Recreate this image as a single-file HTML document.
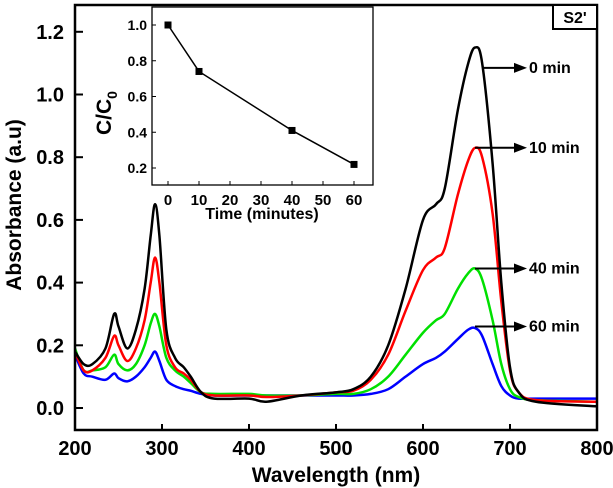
<!DOCTYPE html><html><head><meta charset="utf-8"><style>
body{margin:0;background:#fff}svg{display:block;font-family:"Liberation Sans",sans-serif;font-weight:bold}
</style></head><body>
<svg id="c" width="613" height="488"></svg>
<script>
const xTicks=[200,300,400,500,600,700,800];
const yTicks=[0.0,0.2,0.4,0.6,0.8,1.0,1.2];
const wl=[200,210,220,235,245,250,260,270,280,287,292,297,305,315,325,333,345,360,400,420,460,500,520,540,560,580,600,615,625,640,652,660,668,680,690,700,710,730,800];
const black=[0.18,0.14,0.14,0.19,0.30,0.26,0.19,0.25,0.38,0.55,0.65,0.55,0.25,0.16,0.13,0.10,0.05,0.03,0.03,0.02,0.04,0.05,0.06,0.10,0.20,0.38,0.60,0.65,0.70,0.95,1.10,1.15,1.10,0.78,0.40,0.13,0.05,0.02,0.005];
const red=[0.18,0.12,0.12,0.16,0.23,0.20,0.15,0.19,0.28,0.40,0.48,0.40,0.20,0.13,0.11,0.09,0.05,0.04,0.04,0.035,0.04,0.05,0.055,0.09,0.17,0.31,0.44,0.48,0.51,0.68,0.79,0.83,0.80,0.62,0.34,0.12,0.05,0.025,0.02];
const green=[0.19,0.12,0.12,0.13,0.17,0.14,0.12,0.14,0.20,0.27,0.30,0.26,0.16,0.12,0.10,0.08,0.05,0.045,0.045,0.04,0.04,0.045,0.045,0.06,0.10,0.17,0.24,0.28,0.30,0.38,0.43,0.445,0.41,0.28,0.14,0.06,0.035,0.025,0.02];
const blue=[0.17,0.11,0.10,0.09,0.11,0.095,0.085,0.10,0.13,0.16,0.18,0.15,0.09,0.07,0.06,0.055,0.045,0.04,0.04,0.04,0.04,0.04,0.04,0.045,0.06,0.10,0.14,0.16,0.18,0.22,0.25,0.255,0.23,0.14,0.07,0.04,0.03,0.03,0.03];
const labels=["0 min","10 min","40 min","60 min"];
const labelVals=[1.085,0.83,0.445,0.26];
const insetT=[0,10,40,60];
const insetC=[1.0,0.74,0.41,0.22];
const insetXTicks=[0,10,20,30,40,50,60];
const insetYTicks=[0.2,0.4,0.6,0.8,1.0];

const NS="http://www.w3.org/2000/svg",svg=document.getElementById('c');
function mk(t,a,p){const e=document.createElementNS(NS,t);for(const k in a)e.setAttribute(k,a[k]);(p||svg).appendChild(e);return e;}
const X=v=>75+(v-200)*(522/600), Y=v=>408-v*(62.7/0.2);
function smooth(pts){let d=`M${pts[0][0]},${pts[0][1]}`;for(let i=0;i<pts.length-1;i++){const p0=pts[Math.max(0,i-1)],p1=pts[i],p2=pts[i+1],p3=pts[Math.min(pts.length-1,i+2)];d+=` C${p1[0]+(p2[0]-p0[0])/6},${p1[1]+(p2[1]-p0[1])/6} ${p2[0]-(p3[0]-p1[0])/6},${p2[1]-(p3[1]-p1[1])/6} ${p2[0]},${p2[1]}`;}return d;}
[[blue,'#0000ff','series-60min'],[green,'#00e000','series-40min'],[red,'#ff0000','series-10min'],[black,'#000','series-0min']].forEach(([s,c,n])=>{
 const e=mk('path',{d:smooth(wl.map((w,i)=>[X(w),Y(s[i])])),fill:'none',stroke:c,'stroke-width':2.5});
 });
const f=mk('rect',{x:75,y:5,width:522,height:425,fill:'none',stroke:'#000','stroke-width':2.5});

xTicks.forEach(t=>{mk('line',{x1:X(t),x2:X(t),y1:430,y2:424,stroke:'#000','stroke-width':2});
 const e=mk('text',{x:X(t),y:455,'text-anchor':'middle','font-size':20});e.textContent=t;
 });
yTicks.forEach(t=>{mk('line',{x1:75,x2:83,y1:Y(t),y2:Y(t),stroke:'#000','stroke-width':2});
 const e=mk('text',{x:64,y:Y(t)+7,'text-anchor':'end','font-size':20});e.textContent=t.toFixed(1);
 });
let e=mk('text',{x:336,y:482,'text-anchor':'middle','font-size':21});e.textContent='Wavelength (nm)';

e=mk('text',{x:0,y:0,'text-anchor':'middle','font-size':21,transform:'translate(21,205) rotate(-90)'});e.textContent='Absorbance (a.u)';

const g=mk('g',{});
mk('rect',{x:553,y:5,width:44,height:24,fill:'#fff',stroke:'#000','stroke-width':2},g);
mk('text',{x:575,y:23,'text-anchor':'middle','font-size':16},g).textContent="S2'";
labels.forEach((l,i)=>{const ay=Y(labelVals[i]);const ax=i==0?482:475;
 mk('line',{x1:ax,x2:517,y1:ay,y2:ay,stroke:'#000','stroke-width':2});
 mk('polygon',{points:`514,${ay-5} 527,${ay} 514,${ay+5}`,fill:'#000'});
 const t=mk('text',{x:529,y:ay+5,'font-size':16});t.textContent=l;
 });
const IX=v=>168+v*3.1, IY=v=>25+(1.0-v)*(143/0.8);
const ig=mk('g',{});
mk('rect',{x:152,y:7,width:221,height:178,fill:'#fff',stroke:'#000','stroke-width':1.3},ig);
insetXTicks.forEach(t=>{mk('line',{x1:IX(t),x2:IX(t),y1:185,y2:181,stroke:'#000'},ig);
 const e=mk('text',{x:IX(t),y:205,'text-anchor':'middle','font-size':15},ig);e.textContent=t;});
insetYTicks.forEach(t=>{mk('line',{x1:152,x2:156,y1:IY(t),y2:IY(t),stroke:'#000'},ig);
 const e=mk('text',{x:147,y:IY(t)+5,'text-anchor':'end','font-size':14},ig);e.textContent=t.toFixed(1);});
mk('text',{x:262,y:219,'text-anchor':'middle','font-size':16},ig).textContent='Time (minutes)';
const yt=mk('text',{x:0,y:0,'font-size':21,transform:'translate(111,135) rotate(-90)'},ig);
yt.innerHTML='C/C<tspan font-size="14" dy="6">0</tspan>';
const il=mk('polyline',{points:insetT.map((t,i)=>IX(t)+','+IY(insetC[i])).join(' '),fill:'none',stroke:'#000','stroke-width':1.5},ig);

insetT.forEach((t,i)=>{const r=mk('rect',{x:IX(t)-3.5,y:IY(insetC[i])-3.5,width:7,height:7,fill:'#000'},ig);
 });
</script></body></html>
